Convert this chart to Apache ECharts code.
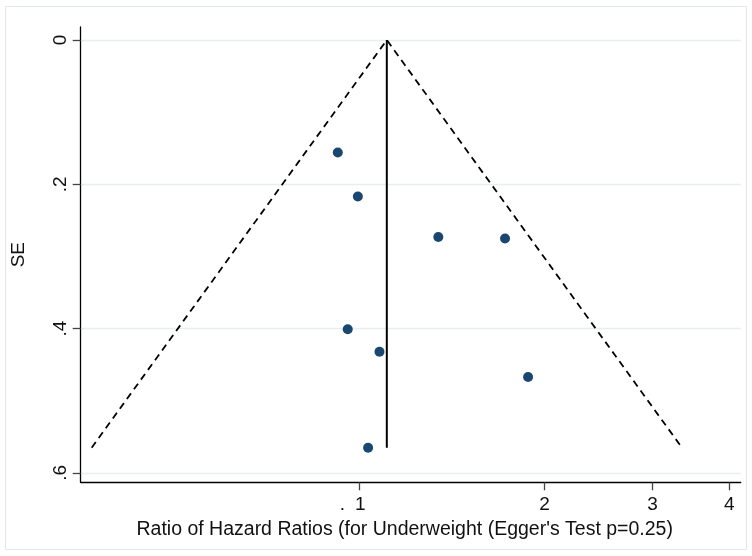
<!DOCTYPE html>
<html>
<head>
<meta charset="utf-8">
<script src="https://cdn.jsdelivr.net/npm/echarts@6/dist/echarts.min.js"></script>
<style>
  html, body { margin: 0; padding: 0; background: #ffffff; }
  #chart { width: 752px; height: 556px; }
</style>
</head>
<body>
<div id="chart"></div>
<script>
// Study-level estimates: ratio of hazard ratios (underweight) and standard error of its log
const ratios    = [0.921, 0.993, 1.343, 1.725, 0.956, 1.077, 1.881, 1.032];
const stdErrors = [0.156, 0.217, 0.273, 0.275, 0.401, 0.432, 0.467, 0.565];
// Pooled ratio shown by the vertical reference line
const pooledRatio = 1.107;
// Axis ticks
const xTickValues = [1, 2, 3, 4];
const yTickValues = [0, 0.2, 0.4, 0.6];
const yTickLabels = ['0', '.2', '.4', '.6'];
const xRange = [0.351, 4.177];
const yRange = [-0.018, 0.613];

const FONT = "'Liberation Sans', Arial, sans-serif";
const z = 1.96;
const lnPooled = Math.log(pooledRatio);
const seMax = Math.max(...stdErrors);

// Pseudo 95% confidence limits around the pooled estimate
const funnel = [
  [lnPooled - z * seMax, seMax],
  [lnPooled, 0],
  [lnPooled + z * seMax, seMax]
];
const pooledLine = [[lnPooled, 0], [lnPooled, seMax]];
const points = ratios.map((r, i) => [Math.log(r), stdErrors[i]]);

const chart = echarts.init(document.getElementById('chart'), null, { renderer: 'canvas' });

chart.setOption({
  backgroundColor: '#ffffff',
  animation: false,
  textStyle: { fontFamily: FONT },
  graphic: [{
    type: 'rect',
    shape: { x: 5.5, y: 6.5, width: 741, height: 543 },
    style: { fill: 'none', stroke: '#e3e9e9', lineWidth: 1 },
    silent: true,
    z: -1
  }],
  grid: { left: 80.7, right: 11.3, top: 27, bottom: 73.7, containLabel: false },
  xAxis: {
    type: 'value',
    min: Math.log(xRange[0]),
    max: Math.log(xRange[1]),
    name: "Ratio of Hazard Ratios (for Underweight (Egger's Test p=0.25)",
    nameLocation: 'middle',
    nameGap: 28,
    nameTextStyle: { fontSize: 19.5, color: '#111', fontFamily: FONT, padding: [0, 12, 0, 0] },
    axisLine: { onZero: false, lineStyle: { color: '#000', width: 1.3 } },
    axisTick: {
      customValues: xTickValues.map(v => Math.log(v)),
      length: 8,
      lineStyle: { color: '#444', width: 1.3 }
    },
    axisLabel: {
      customValues: xTickValues.map(v => Math.log(v)),
      margin: 13,
      fontSize: 19,
      color: '#111',
      fontFamily: FONT,
      formatter: v => {
        const n = Math.round(Math.exp(v));
        return n === 1 ? '{d|.}{s| }1{p| }' : String(n);
      },
      rich: {
        d: { fontSize: 19, fontFamily: FONT, color: '#111' },
        s: { width: 10, fontSize: 19, fontFamily: FONT },
        p: { width: 14, fontSize: 19, fontFamily: FONT }
      }
    },
    splitLine: { show: false }
  },
  yAxis: {
    type: 'value',
    inverse: true,
    min: yRange[0],
    max: yRange[1],
    name: 'SE',
    nameLocation: 'middle',
    nameGap: 52,
    nameRotate: 90,
    nameTextStyle: { fontSize: 19, color: '#111', fontFamily: FONT },
    axisLine: { show: true, onZero: false, lineStyle: { color: '#000', width: 1.3 } },
    axisTick: {
      show: true,
      customValues: yTickValues,
      length: 8,
      lineStyle: { color: '#444', width: 1.3 }
    },
    axisLabel: {
      customValues: yTickValues,
      rotate: 90,
      margin: 10,
      fontSize: 19,
      color: '#111',
      fontFamily: FONT,
      formatter: v => {
        const i = yTickValues.findIndex(t => Math.abs(t - v) < 1e-9);
        return i >= 0 ? yTickLabels[i] : '';
      }
    },
    splitLine: { show: true, lineStyle: { color: '#e8eeee', width: 1.3 } }
  },
  series: [
    {
      name: 'Pseudo 95% limits',
      type: 'line',
      data: funnel,
      showSymbol: false,
      symbol: 'none',
      lineStyle: { color: '#000', width: 1.8, type: [7, 5] },
      z: 2
    },
    {
      name: 'Pooled',
      type: 'line',
      data: pooledLine,
      showSymbol: false,
      symbol: 'none',
      lineStyle: { color: '#000', width: 2 },
      z: 2
    },
    {
      name: 'Studies',
      type: 'scatter',
      data: points,
      symbol: 'circle',
      symbolSize: 10,
      itemStyle: { color: '#1a476f', opacity: 1 },
      z: 3
    }
  ]
});
</script>
</body>
</html>
